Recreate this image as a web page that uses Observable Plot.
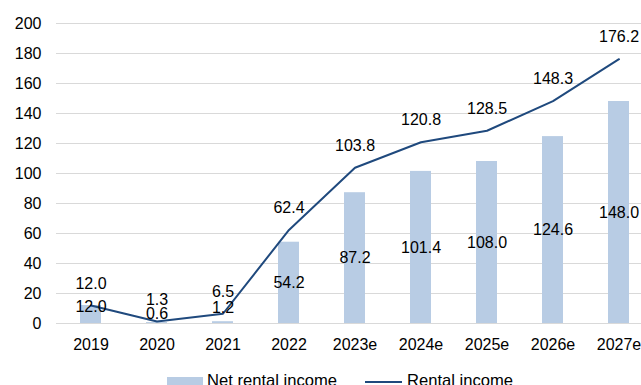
<!DOCTYPE html>
<html>
<head>
<meta charset="utf-8">
<script src="https://cdn.jsdelivr.net/npm/d3@7"></script>
<script src="https://cdn.jsdelivr.net/npm/@observablehq/plot@0.6"></script>
<style>
  html, body { margin: 0; padding: 0; background: #fff; overflow: hidden; width: 641px; height: 385px; }
  #wrap { position: relative; width: 641px; height: 385px; overflow: hidden; }
  .lg { position: absolute; font: 16.6px "Liberation Sans", Arial, sans-serif; color: #000; line-height: 20px; white-space: nowrap; }
</style>
</head>
<body>
<div id="wrap"></div>
<script>
const years = ["2019", "2020", "2021", "2022", "2023e", "2024e", "2025e", "2026e", "2027e"];
const netRentalIncome = [12.0, 0.6, 1.2, 54.2, 87.2, 101.4, 108.0, 124.6, 148.0];
const rentalIncome = [12.0, 1.3, 6.5, 62.4, 103.8, 120.8, 128.5, 148.3, 176.2];
const yTicks = [0, 20, 40, 60, 80, 100, 120, 140, 160, 180, 200];
const seriesNames = ["Net rental income", "Rental income"];

const barColor = "#b8cce4";
const lineColor = "#1f497d";

const rows = years.map((y, i) => ({year: y, net: netRentalIncome[i], rental: rentalIncome[i]}));
const big = rows.filter(d => d.net >= 20);
const small = rows.filter(d => d.net < 20);
const fmt = v => v.toFixed(1);

const chart = Plot.plot({
  width: 641,
  height: 365,
  marginTop: 23,
  marginBottom: 42,
  marginLeft: 56,
  marginRight: 0,
  style: {fontFamily: "'Liberation Sans', Arial, sans-serif", fontSize: "16px", color: "#000", background: "#fff", overflow: "hidden"},
  x: {type: "band", domain: years, range: [56, 653], paddingInner: 0.68, paddingOuter: 0.34, label: null},
  y: {domain: [0, 200], range: [323, 23], label: null},
  marks: [
    Plot.gridY(yTicks, {stroke: "#d9d9d9", strokeOpacity: 1, strokeWidth: 1}),
    Plot.axisY(yTicks, {tickSize: 0, tickPadding: 15, fontSize: 16, fill: "#000"}),
    Plot.axisX({tickSize: 0, tickPadding: 15, fontSize: 16, fill: "#000"}),
    Plot.barY(rows, {x: "year", y: "net", fill: barColor}),
    Plot.lineY(rows, {x: "year", y: "rental", stroke: lineColor, strokeWidth: 2}),
    Plot.text(rows, {x: "year", y: "rental", text: d => fmt(d.rental), dy: -22, fill: "#000", fontSize: 16}),
    Plot.text(big, {x: "year", y: d => d.net / 2, text: d => fmt(d.net), fill: "#000", fontSize: 16}),
    Plot.text(small.filter(d => d.year === "2019"), {x: "year", y: "net", text: d => fmt(d.net), dy: 1, fill: "#000", fontSize: 16}),
    Plot.text(small.filter(d => d.year === "2020"), {x: "year", y: "net", text: d => fmt(d.net), dy: -9, fill: "#000", fontSize: 16}),
    Plot.text(small.filter(d => d.year === "2021"), {x: "year", y: "net", text: d => fmt(d.net), dy: -14, fill: "#000", fontSize: 16})
  ]
});
chart.style.maxWidth = "none";
const wrap = document.getElementById("wrap");
wrap.appendChild(chart);

// legend (HTML, below the plot)
const sw1 = document.createElement("div");
sw1.style.cssText = `position:absolute;left:167px;top:377px;width:36px;height:9px;background:${barColor}`;
const t1 = document.createElement("div");
t1.className = "lg"; t1.style.left = "207px"; t1.style.top = "371px"; t1.textContent = seriesNames[0];
const sw2 = document.createElement("div");
sw2.style.cssText = `position:absolute;left:365px;top:381px;width:37px;height:2px;background:${lineColor}`;
const t2 = document.createElement("div");
t2.className = "lg"; t2.style.left = "407px"; t2.style.top = "371px"; t2.textContent = seriesNames[1];
[sw1, t1, sw2, t2].forEach(el => wrap.appendChild(el));
</script>
</body>
</html>
